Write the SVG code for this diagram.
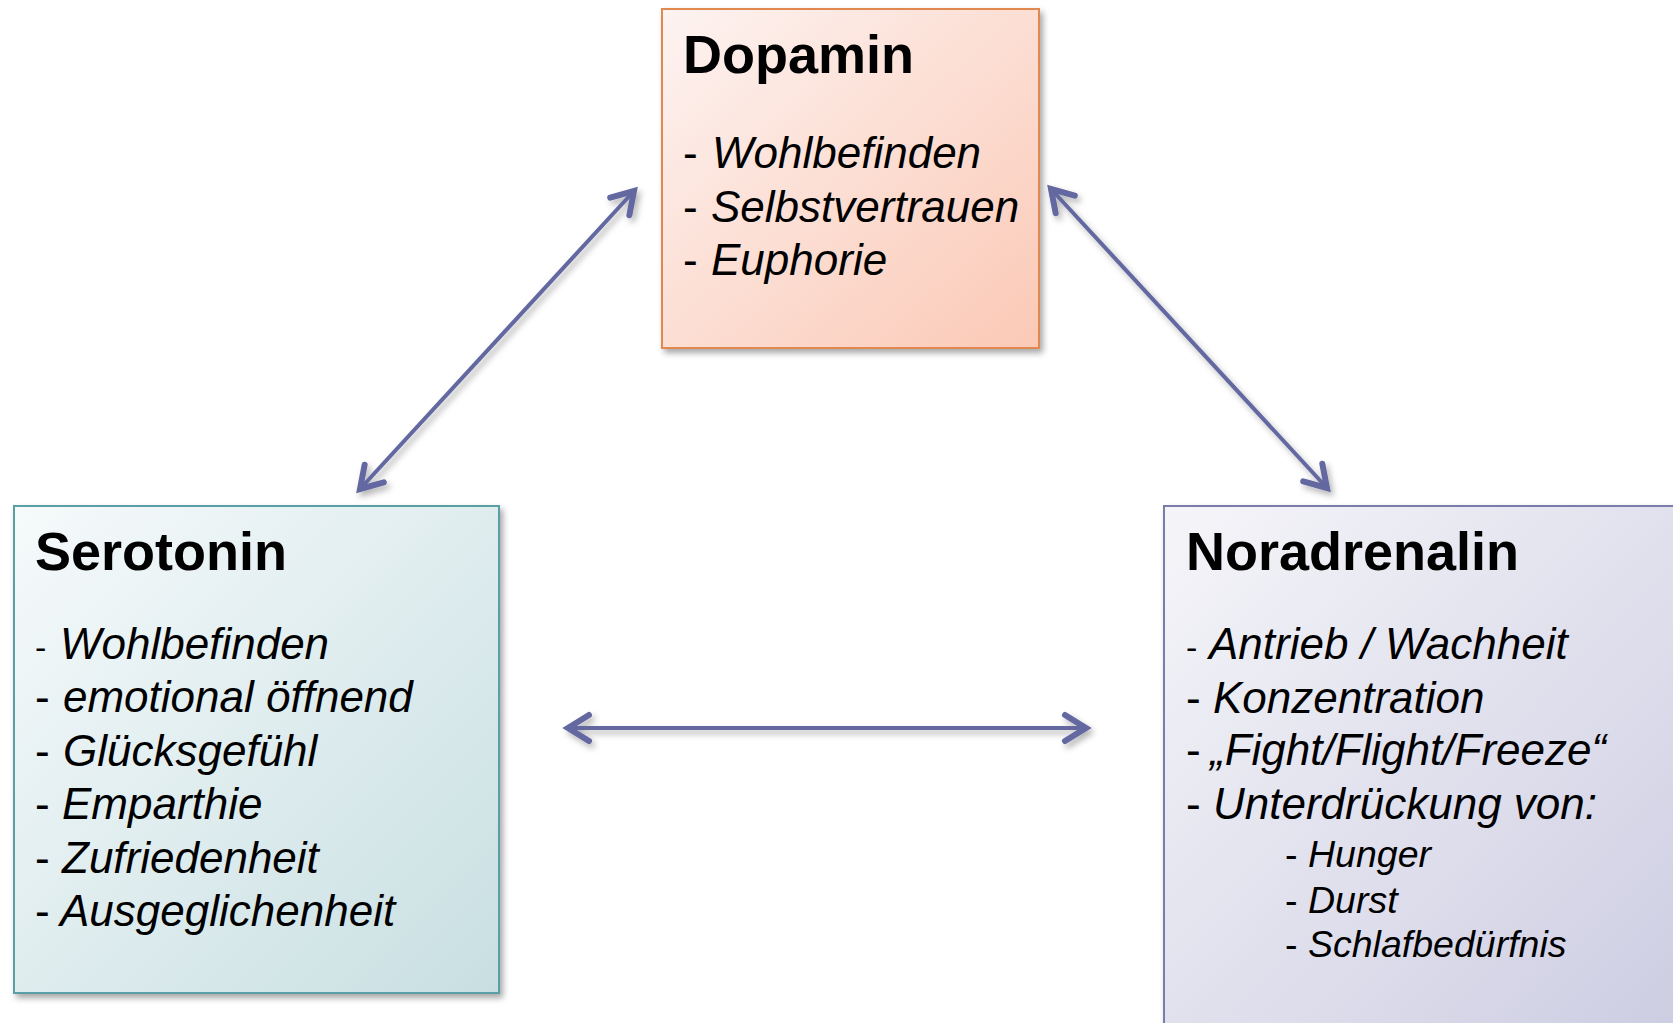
<svg xmlns="http://www.w3.org/2000/svg" width="1673" height="1023" viewBox="0 0 1673 1023">
<style>
.title{font-family:"Liberation Sans",Arial,sans-serif;font-weight:bold;font-size:54px;fill:#000}
.item{font-family:"Liberation Sans",Arial,sans-serif;font-size:44px;fill:#000}
.sub{font-family:"Liberation Sans",Arial,sans-serif;font-size:37.5px;fill:#000}
.it{font-style:italic}
.conn{stroke:#6367a0;stroke-width:4;fill:none}
</style>
<defs>
<linearGradient id="gDop" x1="0" y1="0" x2="1" y2="1">
<stop offset="0" stop-color="#fdf3f1"/>
<stop offset="1" stop-color="#fbc9b6"/>
</linearGradient>
<linearGradient id="gSer" x1="0" y1="0" x2="1" y2="1">
<stop offset="0" stop-color="#f6fafb"/>
<stop offset="1" stop-color="#c8dfe2"/>
</linearGradient>
<linearGradient id="gNor" x1="0" y1="0" x2="1" y2="1">
<stop offset="0" stop-color="#f5f5f9"/>
<stop offset="1" stop-color="#cccce2"/>
</linearGradient>
<filter id="shadow" x="-10%" y="-10%" width="130%" height="130%">
<feDropShadow dx="3" dy="4" stdDeviation="3" flood-color="#000" flood-opacity="0.35"/>
</filter>
<filter id="ashadow" x="-20%" y="-20%" width="140%" height="140%">
<feDropShadow dx="3" dy="4" stdDeviation="3" flood-color="#000" flood-opacity="0.3"/>
</filter>
<marker id="head" viewBox="-30 -20 40 40" refX="0" refY="0" markerWidth="40" markerHeight="40" markerUnits="userSpaceOnUse" orient="auto-start-reverse">
<path d="M-21,-13 L0,0 L-21,13" fill="none" stroke="#6367a0" stroke-width="6" stroke-linecap="round" stroke-linejoin="miter"/>
</marker>
</defs>
<rect width="1673" height="1023" fill="#fff"/>

<g id="connectors" filter="url(#ashadow)">
<line class="conn" x1="360" y1="489" x2="634" y2="191" marker-start="url(#head)" marker-end="url(#head)"/>
<line class="conn" x1="1051" y1="189" x2="1327" y2="488" marker-start="url(#head)" marker-end="url(#head)"/>
<line class="conn" x1="568" y1="728" x2="1086" y2="728" marker-start="url(#head)" marker-end="url(#head)"/>
</g>

<g id="dopamin">
<rect x="662" y="9" width="377" height="339" fill="url(#gDop)" stroke="#e0884f" stroke-width="2" filter="url(#shadow)"/>
<text class="title" x="683" y="73">Dopamin</text>
<text class="item" x="683" y="168">- <tspan class="it" x="712">Wohlbefinden</tspan></text>
<text class="item" x="683" y="222">- <tspan class="it" x="711">Selbstvertrauen</tspan></text>
<text class="item" x="683" y="275">- <tspan class="it" x="711">Euphorie</tspan></text>
</g>

<g id="serotonin">
<rect x="14" y="506" width="485" height="487" fill="url(#gSer)" stroke="#5a9ea6" stroke-width="2" filter="url(#shadow)"/>
<text class="title" x="35" y="570">Serotonin</text>
<text class="item" x="35" y="659"><tspan font-size="34">-</tspan> <tspan class="it" x="60">Wohlbefinden</tspan></text>
<text class="item" x="35" y="712">- <tspan class="it" x="63">emotional öffnend</tspan></text>
<text class="item" x="35" y="766">- <tspan class="it" x="63">Glücksgefühl</tspan></text>
<text class="item" x="35" y="819">- <tspan class="it" x="62">Emparthie</tspan></text>
<text class="item" x="35" y="873">- <tspan class="it" x="62">Zufriedenheit</tspan></text>
<text class="item" x="35" y="926">- <tspan class="it" x="60">Ausgeglichenheit</tspan></text>
</g>

<g id="noradrenalin">
<rect x="1164" y="506" width="530" height="540" fill="url(#gNor)" stroke="#7b7bab" stroke-width="2" filter="url(#shadow)"/>
<text class="title" x="1186" y="570">Noradrenalin</text>
<text class="item" x="1186" y="659"><tspan font-size="34">-</tspan> <tspan class="it" x="1209">Antrieb / Wachheit</tspan></text>
<text class="item" x="1186" y="713">- <tspan class="it" x="1213">Konzentration</tspan></text>
<text class="item" x="1186" y="765">- <tspan class="it" x="1210">„Fight/Flight/Freeze“</tspan></text>
<text class="item" x="1186" y="819">- <tspan class="it" x="1213">Unterdrückung von:</tspan></text>
<text class="sub" x="1285" y="867">- <tspan class="it" x="1308">Hunger</tspan></text>
<text class="sub" x="1285" y="913">- <tspan class="it" x="1308">Durst</tspan></text>
<text class="sub" x="1285" y="957">- <tspan class="it" x="1308">Schlafbedürfnis</tspan></text>
</g>
</svg>
